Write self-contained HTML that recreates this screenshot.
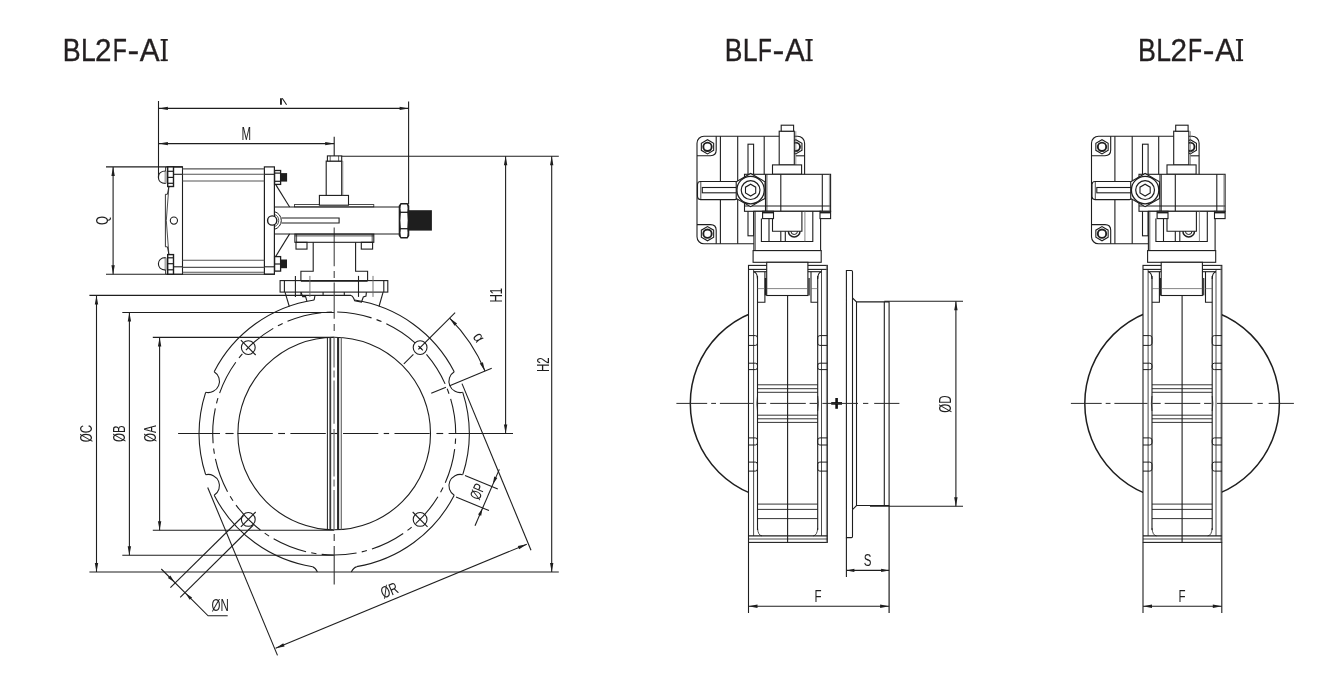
<!DOCTYPE html>
<html><head><meta charset="utf-8"><title>BL2F-AI / BLF-AI</title>
<style>
html,body{margin:0;padding:0;background:#fff;}
body{width:1331px;height:689px;overflow:hidden;font-family:"Liberation Sans",sans-serif;}
svg{display:block;will-change:transform;font-family:"Liberation Sans",sans-serif;}
</style></head><body>
<svg width="1331" height="689" viewBox="0 0 1331 689">
<rect x="0" y="0" width="1331" height="689" fill="#fff"/>
<text transform="translate(62.80,61.1) scale(0.8370,1)" font-size="32.1" fill="#231f20" stroke="#231f20" stroke-width="0.35">B</text>
<text transform="translate(80.92,61.1) scale(0.8267,1)" font-size="32.1" fill="#231f20" stroke="#231f20" stroke-width="0.35">L</text>
<text transform="translate(95.11,61.1) scale(0.9231,1)" font-size="32.1" fill="#231f20" stroke="#231f20" stroke-width="0.35">2</text>
<text transform="translate(112.70,61.1) scale(0.7202,1)" font-size="32.1" fill="#231f20" stroke="#231f20" stroke-width="0.35">F</text>
<text transform="translate(127.44,60.9) scale(1.0974,1)" font-size="32.1" fill="#231f20" stroke="#231f20" stroke-width="0.35">-</text>
<text transform="translate(139.84,61.1) scale(0.9302,1)" font-size="32.1" fill="#231f20" stroke="#231f20" stroke-width="0.35">A</text>
<rect x="162.90" y="39.0" width="2.7" height="22.1" fill="#231f20"/>
<rect x="160.60" y="39.0" width="7.20" height="1.7" fill="#231f20"/>
<rect x="160.60" y="59.4" width="7.20" height="1.7" fill="#231f20"/>
<text transform="translate(724.83,61.1) scale(0.8253,1)" font-size="32.1" fill="#231f20" stroke="#231f20" stroke-width="0.35">B</text>
<text transform="translate(742.80,61.1) scale(0.8337,1)" font-size="32.1" fill="#231f20" stroke="#231f20" stroke-width="0.35">L</text>
<text transform="translate(758.04,61.1) scale(0.7075,1)" font-size="32.1" fill="#231f20" stroke="#231f20" stroke-width="0.35">F</text>
<text transform="translate(772.62,60.9) scale(1.1102,1)" font-size="32.1" fill="#231f20" stroke="#231f20" stroke-width="0.35">-</text>
<text transform="translate(784.94,61.1) scale(0.9302,1)" font-size="32.1" fill="#231f20" stroke="#231f20" stroke-width="0.35">A</text>
<rect x="807.70" y="39.0" width="2.7" height="22.1" fill="#231f20"/>
<rect x="805.40" y="39.0" width="7.30" height="1.7" fill="#231f20"/>
<rect x="805.40" y="59.4" width="7.30" height="1.7" fill="#231f20"/>
<text transform="translate(1138.10,61.1) scale(0.8370,1)" font-size="32.1" fill="#231f20" stroke="#231f20" stroke-width="0.35">B</text>
<text transform="translate(1156.22,61.1) scale(0.8267,1)" font-size="32.1" fill="#231f20" stroke="#231f20" stroke-width="0.35">L</text>
<text transform="translate(1170.41,61.1) scale(0.9231,1)" font-size="32.1" fill="#231f20" stroke="#231f20" stroke-width="0.35">2</text>
<text transform="translate(1188.00,61.1) scale(0.7202,1)" font-size="32.1" fill="#231f20" stroke="#231f20" stroke-width="0.35">F</text>
<text transform="translate(1202.74,60.9) scale(1.0974,1)" font-size="32.1" fill="#231f20" stroke="#231f20" stroke-width="0.35">-</text>
<text transform="translate(1215.14,61.1) scale(0.9302,1)" font-size="32.1" fill="#231f20" stroke="#231f20" stroke-width="0.35">A</text>
<rect x="1238.20" y="39.0" width="2.7" height="22.1" fill="#231f20"/>
<rect x="1235.90" y="39.0" width="7.20" height="1.7" fill="#231f20"/>
<rect x="1235.90" y="59.4" width="7.20" height="1.7" fill="#231f20"/>
<g id="front">
<line x1="89.40" y1="295.40" x2="351.10" y2="295.40" stroke="#1e1e1e" stroke-width="1.1" />
<line x1="122.30" y1="312.50" x2="334.20" y2="312.50" stroke="#1e1e1e" stroke-width="1.1" />
<line x1="152.80" y1="337.40" x2="334.20" y2="337.40" stroke="#1e1e1e" stroke-width="1.1" />
<line x1="152.80" y1="530.30" x2="334.20" y2="530.30" stroke="#1e1e1e" stroke-width="1.1" />
<line x1="122.30" y1="555.20" x2="334.20" y2="555.20" stroke="#1e1e1e" stroke-width="1.1" />
<line x1="89.40" y1="572.00" x2="558.80" y2="572.00" stroke="#1e1e1e" stroke-width="1.1" />
<line x1="96.50" y1="295.40" x2="96.50" y2="572.00" stroke="#1e1e1e" stroke-width="1.1" />
<polygon points="96.50,295.40 98.20,304.40 94.80,304.40" fill="#1e1e1e"/>
<polygon points="96.50,572.00 94.80,563.00 98.20,563.00" fill="#1e1e1e"/>
<line x1="129.40" y1="312.50" x2="129.40" y2="555.20" stroke="#1e1e1e" stroke-width="1.1" />
<polygon points="129.40,312.50 131.10,321.50 127.70,321.50" fill="#1e1e1e"/>
<polygon points="129.40,555.20 127.70,546.20 131.10,546.20" fill="#1e1e1e"/>
<line x1="159.60" y1="337.40" x2="159.60" y2="530.30" stroke="#1e1e1e" stroke-width="1.1" />
<polygon points="159.60,337.40 161.30,346.40 157.90,346.40" fill="#1e1e1e"/>
<polygon points="159.60,530.30 157.90,521.30 161.30,521.30" fill="#1e1e1e"/>
<text transform="translate(92.00,433.60) rotate(-90) scale(0.7,1)" font-size="16.5" text-anchor="middle" fill="#1e1e1e" >ØC</text>
<text transform="translate(125.20,433.60) rotate(-90) scale(0.7,1)" font-size="16.5" text-anchor="middle" fill="#1e1e1e" >ØB</text>
<text transform="translate(155.80,433.60) rotate(-90) scale(0.7,1)" font-size="16.5" text-anchor="middle" fill="#1e1e1e" >ØA</text>
<path d="M454.23,371.72 A135.0,135.0 0 0 0 354.70,300.07" fill="none" stroke="#1e1e1e" stroke-width="1.1" />
<path d="M314.10,300.00 A135.0,135.0 0 0 0 214.17,371.72" fill="none" stroke="#1e1e1e" stroke-width="1.1" />
<path d="M205.64,392.31 A135.0,135.0 0 0 0 205.64,474.69" fill="none" stroke="#1e1e1e" stroke-width="1.1" />
<path d="M214.17,495.28 A135.0,135.0 0 0 0 312.80,566.79" fill="none" stroke="#1e1e1e" stroke-width="1.1" />
<path d="M356.60,566.63 A135.0,135.0 0 0 0 454.23,495.28" fill="none" stroke="#1e1e1e" stroke-width="1.1" />
<path d="M462.76,474.69 A135.0,135.0 0 0 0 462.76,392.31" fill="none" stroke="#1e1e1e" stroke-width="1.1" />
<path d="M462.76,392.31 A11.3,11.3 0 0 1 454.23,371.72" fill="none" stroke="#1e1e1e" stroke-width="1.1" />
<path d="M214.17,371.72 A11.3,11.3 0 0 1 205.64,392.31" fill="none" stroke="#1e1e1e" stroke-width="1.1" />
<path d="M205.64,474.69 A11.3,11.3 0 0 1 214.17,495.28" fill="none" stroke="#1e1e1e" stroke-width="1.1" />
<path d="M454.23,495.28 A11.3,11.3 0 0 1 462.76,474.69" fill="none" stroke="#1e1e1e" stroke-width="1.1" />
<path d="M312.8,566.9 Q315.3,567.6 317.4,572.0" fill="none" stroke="#1e1e1e" stroke-width="1.1" />
<path d="M356.6,566.9 Q353.6,567.6 351.3,572.0" fill="none" stroke="#1e1e1e" stroke-width="1.1" />
<circle cx="334.20" cy="433.50" r="96.30" fill="none" stroke="#1e1e1e" stroke-width="1.1" />
<path d="M449.01,393.74 A121.5,121.5 0 0 0 447.17,388.77" fill="none" stroke="#1e1e1e" stroke-width="1.1" />
<path d="M445.11,383.89 A121.5,121.5 0 0 0 426.45,354.43" fill="none" stroke="#1e1e1e" stroke-width="1.1" />
<path d="M422.91,350.48 A121.5,121.5 0 0 0 419.21,346.69" fill="none" stroke="#1e1e1e" stroke-width="1.1" />
<path d="M415.34,343.07 A121.5,121.5 0 0 0 386.32,323.74" fill="none" stroke="#1e1e1e" stroke-width="1.1" />
<path d="M381.48,321.58 A121.5,121.5 0 0 0 376.55,319.62" fill="none" stroke="#1e1e1e" stroke-width="1.1" />
<path d="M371.54,317.88 A121.5,121.5 0 0 0 337.17,312.04" fill="none" stroke="#1e1e1e" stroke-width="1.1" />
<path d="M331.87,312.02 A121.5,121.5 0 0 0 326.57,312.24" fill="none" stroke="#1e1e1e" stroke-width="1.1" />
<path d="M321.29,312.69 A121.5,121.5 0 0 0 287.51,321.33" fill="none" stroke="#1e1e1e" stroke-width="1.1" />
<path d="M282.66,323.47 A121.5,121.5 0 0 0 277.91,325.83" fill="none" stroke="#1e1e1e" stroke-width="1.1" />
<path d="M273.27,328.38 A121.5,121.5 0 0 0 245.92,350.02" fill="none" stroke="#1e1e1e" stroke-width="1.1" />
<path d="M242.36,353.95 A121.5,121.5 0 0 0 238.98,358.03" fill="none" stroke="#1e1e1e" stroke-width="1.1" />
<path d="M235.78,362.26 A121.5,121.5 0 0 0 219.60,393.14" fill="none" stroke="#1e1e1e" stroke-width="1.1" />
<path d="M217.95,398.18 A121.5,121.5 0 0 0 216.52,403.28" fill="none" stroke="#1e1e1e" stroke-width="1.1" />
<path d="M215.31,408.45 A121.5,121.5 0 0 0 213.09,443.24" fill="none" stroke="#1e1e1e" stroke-width="1.1" />
<path d="M213.63,448.52 A121.5,121.5 0 0 0 214.40,453.76" fill="none" stroke="#1e1e1e" stroke-width="1.1" />
<path d="M215.40,458.97 A121.5,121.5 0 0 0 227.53,491.66" fill="none" stroke="#1e1e1e" stroke-width="1.1" />
<path d="M230.16,496.26 A121.5,121.5 0 0 0 233.00,500.74" fill="none" stroke="#1e1e1e" stroke-width="1.1" />
<path d="M236.03,505.09 A121.5,121.5 0 0 0 260.40,530.02" fill="none" stroke="#1e1e1e" stroke-width="1.1" />
<path d="M264.68,533.15 A121.5,121.5 0 0 0 269.10,536.09" fill="none" stroke="#1e1e1e" stroke-width="1.1" />
<path d="M273.63,538.83 A121.5,121.5 0 0 0 306.04,551.69" fill="none" stroke="#1e1e1e" stroke-width="1.1" />
<path d="M311.22,552.81 A121.5,121.5 0 0 0 316.45,553.70" fill="none" stroke="#1e1e1e" stroke-width="1.1" />
<path d="M321.71,554.36 A121.5,121.5 0 0 0 356.55,552.93" fill="none" stroke="#1e1e1e" stroke-width="1.1" />
<path d="M361.74,551.84 A121.5,121.5 0 0 0 366.87,550.52" fill="none" stroke="#1e1e1e" stroke-width="1.1" />
<path d="M371.95,548.99 A121.5,121.5 0 0 0 403.19,533.51" fill="none" stroke="#1e1e1e" stroke-width="1.1" />
<path d="M407.49,530.41 A121.5,121.5 0 0 0 411.65,527.12" fill="none" stroke="#1e1e1e" stroke-width="1.1" />
<path d="M415.66,523.65 A121.5,121.5 0 0 0 437.91,496.80" fill="none" stroke="#1e1e1e" stroke-width="1.1" />
<path d="M440.57,492.22 A121.5,121.5 0 0 0 443.03,487.52" fill="none" stroke="#1e1e1e" stroke-width="1.1" />
<path d="M445.28,482.72 A121.5,121.5 0 0 0 454.69,449.15" fill="none" stroke="#1e1e1e" stroke-width="1.1" />
<path d="M455.26,443.88 A121.5,121.5 0 0 0 455.59,438.59" fill="none" stroke="#1e1e1e" stroke-width="1.1" />
<path d="M455.70,433.29 A121.5,121.5 0 0 0 450.64,398.79" fill="none" stroke="#1e1e1e" stroke-width="1.1" />
<circle cx="420.11" cy="347.59" r="6.90" fill="none" stroke="#1e1e1e" stroke-width="1.1" />
<circle cx="248.29" cy="347.59" r="6.90" fill="none" stroke="#1e1e1e" stroke-width="1.1" />
<line x1="255.71" y1="355.01" x2="240.86" y2="340.16" stroke="#1e1e1e" stroke-width="1.1" />
<circle cx="248.29" cy="519.41" r="6.90" fill="none" stroke="#1e1e1e" stroke-width="1.1" />
<line x1="255.71" y1="511.99" x2="240.86" y2="526.84" stroke="#1e1e1e" stroke-width="1.1" />
<circle cx="420.11" cy="519.41" r="6.90" fill="none" stroke="#1e1e1e" stroke-width="1.1" />
<line x1="412.69" y1="511.99" x2="427.54" y2="526.84" stroke="#1e1e1e" stroke-width="1.1" />
<line x1="178.10" y1="433.50" x2="220.00" y2="433.50" stroke="#1e1e1e" stroke-width="1.1" />
<line x1="225.40" y1="433.50" x2="233.60" y2="433.50" stroke="#1e1e1e" stroke-width="1.1" />
<line x1="237.60" y1="433.50" x2="272.80" y2="433.50" stroke="#1e1e1e" stroke-width="1.1" />
<line x1="278.20" y1="433.50" x2="285.00" y2="433.50" stroke="#1e1e1e" stroke-width="1.1" />
<line x1="290.40" y1="433.50" x2="325.80" y2="433.50" stroke="#1e1e1e" stroke-width="1.1" />
<line x1="330.30" y1="433.50" x2="338.10" y2="433.50" stroke="#1e1e1e" stroke-width="1.1" />
<line x1="343.00" y1="433.50" x2="378.30" y2="433.50" stroke="#1e1e1e" stroke-width="1.1" />
<line x1="383.70" y1="433.50" x2="389.10" y2="433.50" stroke="#1e1e1e" stroke-width="1.1" />
<line x1="394.50" y1="433.50" x2="429.70" y2="433.50" stroke="#1e1e1e" stroke-width="1.1" />
<line x1="436.40" y1="433.50" x2="443.20" y2="433.50" stroke="#1e1e1e" stroke-width="1.1" />
<line x1="448.60" y1="433.50" x2="513.00" y2="433.50" stroke="#1e1e1e" stroke-width="1.1" />
<line x1="334.20" y1="227.40" x2="334.20" y2="266.30" stroke="#444" stroke-width="1.1" />
<line x1="334.20" y1="271.10" x2="334.20" y2="278.00" stroke="#444" stroke-width="1.1" />
<line x1="334.20" y1="282.60" x2="334.20" y2="318.70" stroke="#444" stroke-width="1.1" />
<line x1="334.20" y1="324.00" x2="334.20" y2="331.00" stroke="#444" stroke-width="1.1" />
<line x1="334.20" y1="546.00" x2="334.20" y2="584.50" stroke="#333" stroke-width="1.1" />
<line x1="334.20" y1="534.00" x2="334.20" y2="541.00" stroke="#333" stroke-width="1.1" />
<line x1="327.40" y1="337.60" x2="327.40" y2="529.40" stroke="#1e1e1e" stroke-width="1.0" />
<line x1="330.30" y1="337.60" x2="330.30" y2="529.40" stroke="#3a3a3a" stroke-width="1.8" />
<line x1="338.10" y1="337.60" x2="338.10" y2="529.40" stroke="#2a2a2a" stroke-width="2.1" />
<line x1="341.30" y1="337.60" x2="341.30" y2="529.40" stroke="#6a6a6a" stroke-width="1.2" />
<line x1="334.05" y1="337.60" x2="334.05" y2="367.50" stroke="#6e6e6e" stroke-width="1.2" />
<line x1="334.05" y1="370.50" x2="334.05" y2="377.50" stroke="#6e6e6e" stroke-width="1.2" />
<line x1="334.05" y1="380.50" x2="334.05" y2="423.80" stroke="#6e6e6e" stroke-width="1.2" />
<line x1="334.05" y1="429.10" x2="334.05" y2="476.50" stroke="#6e6e6e" stroke-width="1.2" />
<line x1="334.05" y1="479.50" x2="334.05" y2="486.50" stroke="#6e6e6e" stroke-width="1.2" />
<line x1="334.05" y1="490.00" x2="334.05" y2="529.40" stroke="#6e6e6e" stroke-width="1.2" />
<line x1="285.00" y1="292.10" x2="289.30" y2="306.50" stroke="#1e1e1e" stroke-width="1.1" />
<line x1="383.10" y1="292.10" x2="379.00" y2="306.50" stroke="#1e1e1e" stroke-width="1.1" />
<line x1="301.00" y1="292.10" x2="301.00" y2="295.50" stroke="#1e1e1e" stroke-width="1.1" />
<line x1="323.10" y1="292.10" x2="323.10" y2="295.50" stroke="#1e1e1e" stroke-width="1.1" />
<line x1="344.30" y1="292.10" x2="344.30" y2="295.50" stroke="#1e1e1e" stroke-width="1.1" />
<path d="M301.00,292.10 L302.70,296.60 L305.60,296.60 L306.90,301.10" fill="none" stroke="#1e1e1e" stroke-width="1.1" />
<path d="M315.00,295.50 L314.10,300.20" fill="none" stroke="#1e1e1e" stroke-width="1.1" />
<path d="M351.1,295.5 Q353,296 354.7,300.7 L361.5,302.0 L363.3,297.0 L366.0,296.1 L366.4,292.1" fill="none" stroke="#1e1e1e" stroke-width="1.1" />
<rect x="280.10" y="280.60" width="107.70" height="11.50" rx="0" fill="none" stroke="#1e1e1e" stroke-width="1.1" />
<line x1="284.40" y1="280.60" x2="284.40" y2="292.10" stroke="#1e1e1e" stroke-width="1.1" />
<line x1="383.80" y1="280.60" x2="383.80" y2="292.10" stroke="#1e1e1e" stroke-width="1.1" />
<line x1="300.90" y1="280.90" x2="367.60" y2="280.90" stroke="#1e1e1e" stroke-width="1.5" />
<path d="M300.90,280.60 L300.90,271.30 L313.20,271.30 L313.20,242.30" fill="none" stroke="#1e1e1e" stroke-width="1.1" />
<path d="M367.60,280.60 L367.60,271.30 L355.60,271.30 L355.60,242.30" fill="none" stroke="#1e1e1e" stroke-width="1.1" />
<line x1="295.40" y1="275.90" x2="295.40" y2="296.90" stroke="#1e1e1e" stroke-width="1.1" />
<line x1="358.50" y1="275.90" x2="358.50" y2="296.90" stroke="#1e1e1e" stroke-width="1.1" />
<line x1="309.90" y1="275.90" x2="309.90" y2="296.90" stroke="#666" stroke-width="0.9" />
<line x1="373.00" y1="275.90" x2="373.00" y2="296.90" stroke="#666" stroke-width="0.9" />
<line x1="106.00" y1="166.90" x2="182.50" y2="166.90" stroke="#1e1e1e" stroke-width="1.1" />
<line x1="106.00" y1="274.20" x2="274.80" y2="274.20" stroke="#1e1e1e" stroke-width="1.1" />
<line x1="113.10" y1="166.90" x2="113.10" y2="274.20" stroke="#1e1e1e" stroke-width="1.1" />
<polygon points="113.10,166.90 114.80,175.90 111.40,175.90" fill="#1e1e1e"/>
<polygon points="113.10,274.20 111.40,265.20 114.80,265.20" fill="#1e1e1e"/>
<text transform="translate(108.00,220.60) rotate(-90) scale(0.7,1)" font-size="16.5" text-anchor="middle" fill="#1e1e1e" >Q</text>
<path d="M166.40,166.90 L182.50,166.90 L182.50,274.20 L166.40,274.20" fill="none" stroke="#1e1e1e" stroke-width="1.1" />
<rect x="264.40" y="166.90" width="10.00" height="107.30" rx="0" fill="none" stroke="#1e1e1e" stroke-width="1.2" />
<line x1="173.50" y1="174.30" x2="182.50" y2="174.30" stroke="#1e1e1e" stroke-width="1.1" />
<line x1="173.50" y1="266.80" x2="182.50" y2="266.80" stroke="#1e1e1e" stroke-width="1.1" />
<line x1="264.40" y1="174.30" x2="274.40" y2="174.30" stroke="#1e1e1e" stroke-width="1.1" />
<line x1="264.40" y1="266.80" x2="274.40" y2="266.80" stroke="#1e1e1e" stroke-width="1.1" />
<line x1="182.50" y1="168.90" x2="264.40" y2="168.90" stroke="#555" stroke-width="1.1" />
<line x1="182.50" y1="174.20" x2="264.40" y2="174.20" stroke="#555" stroke-width="1.1" />
<line x1="182.50" y1="181.00" x2="264.40" y2="181.00" stroke="#555" stroke-width="1.1" />
<line x1="182.50" y1="260.30" x2="264.40" y2="260.30" stroke="#555" stroke-width="1.1" />
<line x1="182.50" y1="267.40" x2="264.40" y2="267.40" stroke="#555" stroke-width="1.1" />
<line x1="182.50" y1="272.20" x2="264.40" y2="272.20" stroke="#555" stroke-width="1.1" />
<rect x="164.5" y="171.00" width="3.0" height="12.5" fill="#aaa"/>
<rect x="167.70" y="166.90" width="5.80" height="19.60" rx="0" fill="#fff" stroke="#1e1e1e" stroke-width="1.4" />
<line x1="167.70" y1="171.30" x2="173.50" y2="171.30" stroke="#1e1e1e" stroke-width="1.2" />
<line x1="167.70" y1="177.40" x2="173.50" y2="177.40" stroke="#1e1e1e" stroke-width="1.2" />
<line x1="167.70" y1="183.30" x2="173.50" y2="183.30" stroke="#1e1e1e" stroke-width="1.2" />
<line x1="165.70" y1="166.90" x2="165.70" y2="171.00" stroke="#1e1e1e" stroke-width="1.0" />
<path d="M165.7,171.00 C160.5,171.00 158.4,174.20 158.4,177.25 C158.4,180.30 160.5,183.50 165.7,183.50" fill="none" stroke="#1e1e1e" stroke-width="1.1" />
<rect x="164.5" y="257.60" width="3.0" height="12.5" fill="#aaa"/>
<rect x="167.70" y="254.60" width="5.80" height="19.60" rx="0" fill="#fff" stroke="#1e1e1e" stroke-width="1.4" />
<line x1="167.70" y1="269.80" x2="173.50" y2="269.80" stroke="#1e1e1e" stroke-width="1.2" />
<line x1="167.70" y1="263.70" x2="173.50" y2="263.70" stroke="#1e1e1e" stroke-width="1.2" />
<line x1="167.70" y1="257.80" x2="173.50" y2="257.80" stroke="#1e1e1e" stroke-width="1.2" />
<line x1="165.70" y1="274.20" x2="165.70" y2="270.10" stroke="#1e1e1e" stroke-width="1.0" />
<path d="M165.7,270.10 C160.5,270.10 158.4,266.90 158.4,263.85 C158.4,260.80 160.5,257.60 165.7,257.60" fill="none" stroke="#1e1e1e" stroke-width="1.1" />
<path d="M168.90,186.50 L167.40,194.30 L165.40,194.30 L165.40,246.80 L167.40,246.80 L168.90,254.60" fill="none" stroke="#1e1e1e" stroke-width="0.9" />
<path d="M168.90,186.50 L166.30,220.50 L168.90,254.60" fill="none" stroke="#1e1e1e" stroke-width="0.8" />
<circle cx="173.90" cy="220.60" r="3.60" fill="none" stroke="#1e1e1e" stroke-width="1.1" />
<rect x="274.60" y="170.50" width="6.00" height="13.90" rx="0" fill="#fff" stroke="#1e1e1e" stroke-width="1.3" />
<line x1="274.60" y1="173.10" x2="280.60" y2="173.10" stroke="#1e1e1e" stroke-width="1.2" />
<line x1="274.60" y1="181.30" x2="280.60" y2="181.30" stroke="#1e1e1e" stroke-width="1.2" />
<rect x="280.6" y="173.1" width="6.5" height="8.5" fill="#1e1e1e"/>
<rect x="274.60" y="256.60" width="6.00" height="14.50" rx="0" fill="#fff" stroke="#1e1e1e" stroke-width="1.3" />
<line x1="274.60" y1="264.00" x2="280.60" y2="264.00" stroke="#1e1e1e" stroke-width="1.2" />
<rect x="280.6" y="259.5" width="6.4" height="8.7" fill="#1e1e1e"/>
<line x1="275.60" y1="184.40" x2="289.60" y2="207.00" stroke="#1e1e1e" stroke-width="1.1" />
<line x1="275.60" y1="256.60" x2="289.60" y2="233.90" stroke="#1e1e1e" stroke-width="1.1" />
<line x1="274.40" y1="207.00" x2="399.50" y2="207.00" stroke="#1e1e1e" stroke-width="1.1" />
<line x1="274.40" y1="234.00" x2="399.50" y2="234.00" stroke="#1e1e1e" stroke-width="1.1" />
<path d="M281.60,218.00 L339.10,218.00 L339.10,223.00 L281.60,223.00" fill="none" stroke="#1e1e1e" stroke-width="1.1" />
<path d="M274.4,211.67 A9.1,9.1 0 0 1 274.4,229.33" fill="none" stroke="#1e1e1e" stroke-width="1.0" />
<path d="M274.4,214.38 A6.5,6.5 0 0 1 274.4,226.62" fill="none" stroke="#1e1e1e" stroke-width="0.8" />
<circle cx="272.20" cy="220.50" r="4.60" fill="#fff" stroke="#1e1e1e" stroke-width="1.4" />
<rect x="294.50" y="204.60" width="79.30" height="2.30" rx="0" fill="none" stroke="#1e1e1e" stroke-width="0.8" />
<rect x="319.40" y="195.40" width="29.10" height="9.80" rx="0" fill="#fff" stroke="#1e1e1e" stroke-width="1.1" />
<rect x="326.20" y="161.10" width="15.50" height="34.30" rx="0" fill="#fff" stroke="#1e1e1e" stroke-width="1.1" />
<line x1="342.80" y1="161.10" x2="342.80" y2="195.40" stroke="#666" stroke-width="0.7" />
<rect x="327.40" y="155.90" width="14.30" height="5.20" rx="0" fill="#fff" stroke="#1e1e1e" stroke-width="1.1" />
<line x1="330.20" y1="155.90" x2="330.20" y2="161.10" stroke="#1e1e1e" stroke-width="0.7" />
<line x1="338.60" y1="155.90" x2="338.60" y2="161.10" stroke="#1e1e1e" stroke-width="0.7" />
<rect x="294.90" y="234.10" width="78.90" height="8.20" rx="0" fill="none" stroke="#1e1e1e" stroke-width="1.1" />
<line x1="294.90" y1="235.90" x2="373.80" y2="235.90" stroke="#1e1e1e" stroke-width="0.8" />
<line x1="296.60" y1="234.10" x2="296.60" y2="242.30" stroke="#1e1e1e" stroke-width="0.8" />
<line x1="372.20" y1="234.10" x2="372.20" y2="242.30" stroke="#1e1e1e" stroke-width="0.8" />
<rect x="296.00" y="242.30" width="11.00" height="6.80" rx="0" fill="none" stroke="#1e1e1e" stroke-width="1.1" />
<rect x="361.30" y="242.30" width="11.30" height="6.80" rx="0" fill="none" stroke="#1e1e1e" stroke-width="1.1" />
<path d="M401.0,203.8 L407.2,203.8 L408.6,206.0 L408.6,235.6 L407.2,237.8 L401.0,237.8 L399.4,235.6 L399.4,206.0 Z" fill="#fff" stroke="#1e1e1e" stroke-width="1.4" />
<line x1="399.40" y1="212.30" x2="408.60" y2="212.30" stroke="#1e1e1e" stroke-width="1.3" />
<line x1="399.40" y1="228.70" x2="408.60" y2="228.70" stroke="#1e1e1e" stroke-width="1.3" />
<path d="M400.6,204.5 Q399.6,208.2 400.6,212.3 Q399.2,220.5 400.6,228.7 Q399.6,232.8 400.6,237.0" fill="none" stroke="#1e1e1e" stroke-width="0.8" />
<path d="M407.6,204.5 Q408.4,208.2 407.6,212.3 Q408.8,220.5 407.6,228.7 Q408.4,232.8 407.6,237.0" fill="none" stroke="#1e1e1e" stroke-width="0.8" />
<rect x="408.6" y="210.2" width="23.3" height="20.4" fill="#1e1e1e"/>
<line x1="158.50" y1="101.00" x2="158.50" y2="178.60" stroke="#1e1e1e" stroke-width="1.1" />
<line x1="408.60" y1="101.40" x2="408.60" y2="204.20" stroke="#1e1e1e" stroke-width="1.1" />
<line x1="158.50" y1="108.40" x2="408.60" y2="108.40" stroke="#1e1e1e" stroke-width="1.1" />
<polygon points="158.90,108.40 167.90,106.70 167.90,110.10" fill="#1e1e1e"/>
<polygon points="408.60,108.40 399.60,110.10 399.60,106.70" fill="#1e1e1e"/>
<line x1="158.50" y1="143.60" x2="334.20" y2="143.60" stroke="#1e1e1e" stroke-width="1.1" />
<polygon points="158.90,143.60 167.90,141.90 167.90,145.30" fill="#1e1e1e"/>
<polygon points="334.20,143.60 325.20,145.30 325.20,141.90" fill="#1e1e1e"/>
<line x1="334.20" y1="136.80" x2="334.20" y2="155.90" stroke="#1e1e1e" stroke-width="1.1" />
<text transform="translate(246.20,139.80) rotate(0) scale(0.66,1)" font-size="17.5" text-anchor="middle" fill="#1e1e1e" >M</text>
<path d="M280,98.3 L281.9,98.3 L281.9,104.7 L280,104.7 Z" fill="#1e1e1e"/>
<line x1="282.20" y1="98.30" x2="286.60" y2="104.70" stroke="#1e1e1e" stroke-width="1.1" />
<line x1="341.70" y1="156.30" x2="558.80" y2="156.30" stroke="#1e1e1e" stroke-width="1.1" />
<line x1="505.60" y1="156.30" x2="505.60" y2="433.50" stroke="#1e1e1e" stroke-width="1.1" />
<polygon points="505.60,156.30 507.30,165.30 503.90,165.30" fill="#1e1e1e"/>
<polygon points="505.60,433.50 503.90,424.50 507.30,424.50" fill="#1e1e1e"/>
<line x1="551.70" y1="156.30" x2="551.70" y2="572.00" stroke="#1e1e1e" stroke-width="1.1" />
<polygon points="551.70,156.30 553.40,165.30 550.00,165.30" fill="#1e1e1e"/>
<polygon points="551.70,572.00 550.00,563.00 553.40,563.00" fill="#1e1e1e"/>
<text transform="translate(502.20,295.20) rotate(-90) scale(0.7,1)" font-size="16.5" text-anchor="middle" fill="#1e1e1e" >H1</text>
<text transform="translate(548.80,364.60) rotate(-90) scale(0.7,1)" font-size="16.5" text-anchor="middle" fill="#1e1e1e" >H2</text>
<line x1="418.35" y1="349.35" x2="455.12" y2="312.58" stroke="#1e1e1e" stroke-width="1.1" />
<line x1="413.40" y1="354.30" x2="403.85" y2="363.85" stroke="#1e1e1e" stroke-width="1.1" />
<line x1="418.31" y1="345.79" x2="421.91" y2="349.39" stroke="#1e1e1e" stroke-width="1.1" />
<line x1="431.21" y1="393.32" x2="445.99" y2="387.20" stroke="#1e1e1e" stroke-width="1.1" />
<line x1="449.68" y1="385.66" x2="491.72" y2="368.25" stroke="#1e1e1e" stroke-width="1.1" />
<path d="M449.60,318.10 A163.2,163.2 0 0 1 484.98,371.05" fill="none" stroke="#1e1e1e" stroke-width="1.1" />
<polygon points="449.60,318.10 457.04,323.45 454.58,325.79" fill="#1e1e1e"/>
<polygon points="484.98,371.05 479.78,363.51 482.89,362.13" fill="#1e1e1e"/>
<text transform="translate(474.50,340.30) rotate(56) scale(0.9,1)" font-size="16" text-anchor="middle" fill="#1e1e1e" >α</text>
<line x1="465.00" y1="475.40" x2="497.80" y2="489.00" stroke="#1e1e1e" stroke-width="1.1" />
<line x1="456.00" y1="497.00" x2="489.00" y2="510.60" stroke="#1e1e1e" stroke-width="1.1" />
<line x1="499.30" y1="469.40" x2="475.00" y2="525.70" stroke="#1e1e1e" stroke-width="1.1" />
<polygon points="492.90,484.20 494.20,476.62 497.34,477.92" fill="#1e1e1e"/>
<polygon points="482.50,508.20 481.20,515.78 478.06,514.48" fill="#1e1e1e"/>
<text transform="translate(482.20,493.60) rotate(-67.5) scale(0.7,1)" font-size="15.5" text-anchor="middle" fill="#1e1e1e" >ØP</text>
<line x1="462.00" y1="383.60" x2="531.00" y2="550.20" stroke="#1e1e1e" stroke-width="1.1" />
<line x1="207.70" y1="487.50" x2="277.50" y2="655.40" stroke="#1e1e1e" stroke-width="1.1" />
<line x1="275.60" y1="648.30" x2="526.80" y2="544.20" stroke="#1e1e1e" stroke-width="1.1" />
<polygon points="275.60,648.30 283.26,643.29 284.57,646.43" fill="#1e1e1e"/>
<polygon points="526.80,544.20 519.14,549.21 517.83,546.07" fill="#1e1e1e"/>
<text transform="translate(391.50,595.50) rotate(-22.5) scale(0.7,1)" font-size="16.5" text-anchor="middle" fill="#1e1e1e" >ØR</text>
<line x1="243.60" y1="515.50" x2="170.40" y2="587.60" stroke="#1e1e1e" stroke-width="1.1" />
<line x1="253.40" y1="525.00" x2="180.20" y2="597.40" stroke="#1e1e1e" stroke-width="1.1" />
<path d="M161.30,569.00 L208.10,615.80 L227.70,615.80" fill="none" stroke="#1e1e1e" stroke-width="1.1" />
<polygon points="174.40,582.10 167.89,578.00 170.30,575.59" fill="#1e1e1e"/>
<polygon points="185.60,593.30 192.11,597.40 189.70,599.81" fill="#1e1e1e"/>
<text transform="translate(220.20,610.90) rotate(0) scale(0.7,1)" font-size="16.5" text-anchor="middle" fill="#1e1e1e" >ØN</text>
</g>
<g transform="translate(0,0)">
<circle cx="787.60" cy="403.40" r="97.30" fill="none" stroke="#1e1e1e" stroke-width="1.5" />
<rect x="787.6" y="300" width="110" height="210" fill="#fff"/>
<rect x="697.00" y="136.20" width="107.60" height="107.60" rx="7" fill="#fff" stroke="#1e1e1e" stroke-width="1.1" />
<line x1="720.40" y1="136.20" x2="720.40" y2="243.80" stroke="#1e1e1e" stroke-width="1.1" />
<line x1="737.70" y1="136.20" x2="737.70" y2="243.80" stroke="#1e1e1e" stroke-width="1.1" />
<line x1="764.20" y1="136.20" x2="764.20" y2="243.80" stroke="#1e1e1e" stroke-width="1.1" />
<path d="M697,155.8 L710.5,155.8 Q716.2,155.8 716.2,150.1 L716.2,136.2" fill="none" stroke="#1e1e1e" stroke-width="1.1" />
<path d="M697,224.6 L710.5,224.6 Q716.2,224.6 716.2,230.3 L716.2,243.8" fill="none" stroke="#1e1e1e" stroke-width="1.1" />
<path d="M804.6,155.8 L795.8,155.8" fill="none" stroke="#1e1e1e" stroke-width="1.1" />
<path d="M713.65,150.35 L707.50,153.90 L701.35,150.35 L701.35,143.25 L707.50,139.70 L713.65,143.25 Z" fill="none" stroke="#1e1e1e" stroke-width="1.1" />
<circle cx="707.50" cy="146.80" r="4.20" fill="none" stroke="#1e1e1e" stroke-width="1.9" />
<path d="M801.95,150.35 L795.80,153.90 L789.65,150.35 L789.65,143.25 L795.80,139.70 L801.95,143.25 Z" fill="none" stroke="#1e1e1e" stroke-width="1.1" />
<circle cx="795.80" cy="146.80" r="4.20" fill="none" stroke="#1e1e1e" stroke-width="1.9" />
<path d="M713.65,237.25 L707.50,240.80 L701.35,237.25 L701.35,230.15 L707.50,226.60 L713.65,230.15 Z" fill="none" stroke="#1e1e1e" stroke-width="1.1" />
<circle cx="707.50" cy="233.70" r="4.20" fill="none" stroke="#1e1e1e" stroke-width="1.9" />
<rect x="748.00" y="144.20" width="5.60" height="91.60" rx="0" fill="#fff" stroke="#1e1e1e" stroke-width="1.1" />
<rect x="697.50" y="181.50" width="40.50" height="18.10" rx="3" fill="#fff" stroke="#1e1e1e" stroke-width="1.1" />
<line x1="700.80" y1="182.00" x2="700.80" y2="199.10" stroke="#1e1e1e" stroke-width="0.8" />
<rect x="702.30" y="187.50" width="35.70" height="5.30" rx="0" fill="none" stroke="#1e1e1e" stroke-width="1.1" />
<rect x="779.20" y="131.20" width="15.10" height="33.80" rx="0" fill="#fff" stroke="#1e1e1e" stroke-width="1.1" />
<line x1="795.80" y1="131.20" x2="795.80" y2="165.00" stroke="#666" stroke-width="0.7" />
<rect x="781.20" y="125.20" width="12.40" height="6.00" rx="0" fill="#fff" stroke="#1e1e1e" stroke-width="1.1" />
<rect x="772.50" y="164.90" width="29.10" height="9.40" rx="0" fill="#fff" stroke="#1e1e1e" stroke-width="1.1" />
<rect x="744.50" y="174.30" width="86.10" height="37.00" rx="0" fill="#fff" stroke="#1e1e1e" stroke-width="1.1" />
<line x1="744.50" y1="206.00" x2="830.60" y2="206.00" stroke="#1e1e1e" stroke-width="1.1" />
<line x1="765.50" y1="174.30" x2="765.50" y2="211.30" stroke="#1e1e1e" stroke-width="1.1" />
<line x1="766.90" y1="174.30" x2="766.90" y2="211.30" stroke="#1e1e1e" stroke-width="0.8" />
<line x1="780.80" y1="174.30" x2="780.80" y2="211.30" stroke="#1e1e1e" stroke-width="1.1" />
<line x1="822.30" y1="174.30" x2="822.30" y2="211.30" stroke="#1e1e1e" stroke-width="1.1" />
<line x1="829.40" y1="174.30" x2="829.40" y2="211.30" stroke="#666" stroke-width="0.7" />
<path d="M764.98,198.40 L750.60,206.70 L736.22,198.40 L736.22,181.80 L750.60,173.50 L764.98,181.80 Z" fill="#fff" stroke="#1e1e1e" stroke-width="1.1" />
<circle cx="750.60" cy="190.10" r="13.70" fill="#fff" stroke="#1e1e1e" stroke-width="1.3" />
<circle cx="750.60" cy="190.10" r="9.40" fill="none" stroke="#1e1e1e" stroke-width="1.2" />
<path d="M755.71,193.05 L750.60,196.00 L745.49,193.05 L745.49,187.15 L750.60,184.20 L755.71,187.15 Z" fill="none" stroke="#1e1e1e" stroke-width="1.1" />
<rect x="753.90" y="211.30" width="66.70" height="39.30" rx="0" fill="#fff" stroke="#1e1e1e" stroke-width="1.1" />
<line x1="755.30" y1="211.30" x2="755.30" y2="250.60" stroke="#1e1e1e" stroke-width="0.7" />
<path d="M761.40,218.60 L761.40,241.50 L812.80,241.50 L812.80,211.30" fill="none" stroke="#1e1e1e" stroke-width="1.1" />
<line x1="769.00" y1="218.60" x2="769.00" y2="241.50" stroke="#1e1e1e" stroke-width="1.1" />
<line x1="780.80" y1="231.20" x2="780.80" y2="241.50" stroke="#1e1e1e" stroke-width="1.1" />
<line x1="785.30" y1="231.20" x2="785.30" y2="241.50" stroke="#1e1e1e" stroke-width="1.1" />
<line x1="804.90" y1="211.30" x2="804.90" y2="241.50" stroke="#666" stroke-width="0.8" />
<path d="M772.50,211.30 L772.50,231.20 L801.90,231.20 L801.90,211.30" fill="none" stroke="#1e1e1e" stroke-width="1.1" />
<path d="M788.4,231.2 A5.8,5.8 0 0 0 800.0,231.2" fill="none" stroke="#1e1e1e" stroke-width="1.5" />
<path d="M790.9,231.2 A3.3,3.3 0 0 0 797.5,231.2" fill="none" stroke="#1e1e1e" stroke-width="1.0" />
<rect x="762.60" y="211.30" width="10.90" height="7.30" rx="0" fill="#fff" stroke="#1e1e1e" stroke-width="1.1" />
<line x1="762.60" y1="212.60" x2="773.50" y2="212.60" stroke="#1e1e1e" stroke-width="1.6" />
<rect x="820.00" y="211.30" width="10.60" height="7.30" rx="0" fill="#fff" stroke="#1e1e1e" stroke-width="1.1" />
<line x1="820.00" y1="212.60" x2="830.60" y2="212.60" stroke="#1e1e1e" stroke-width="1.6" />
<rect x="753.10" y="250.60" width="68.10" height="11.70" rx="0" fill="#fff" stroke="#1e1e1e" stroke-width="1.1" />
<rect x="748.50" y="265.40" width="78.80" height="277.00" rx="0" fill="#fff" stroke="#1e1e1e" stroke-width="1.1" />
<rect x="766.70" y="262.30" width="41.20" height="33.20" rx="0" fill="#fff" stroke="#1e1e1e" stroke-width="1.1" />
<line x1="766.70" y1="288.60" x2="807.90" y2="288.60" stroke="#666" stroke-width="0.8" />
<line x1="765.60" y1="278.00" x2="765.60" y2="295.40" stroke="#1e1e1e" stroke-width="1.7" />
<line x1="809.00" y1="278.00" x2="809.00" y2="295.40" stroke="#444" stroke-width="1.7" />
<line x1="748.50" y1="269.40" x2="766.70" y2="269.40" stroke="#1e1e1e" stroke-width="1.1" />
<line x1="753.60" y1="271.70" x2="766.70" y2="271.70" stroke="#1e1e1e" stroke-width="1.1" />
<line x1="807.90" y1="269.40" x2="827.30" y2="269.40" stroke="#1e1e1e" stroke-width="1.1" />
<line x1="807.90" y1="271.70" x2="821.50" y2="271.70" stroke="#1e1e1e" stroke-width="1.1" />
<line x1="753.60" y1="269.40" x2="753.60" y2="535.90" stroke="#1e1e1e" stroke-width="0.8" />
<line x1="757.50" y1="276.00" x2="757.50" y2="530.00" stroke="#1e1e1e" stroke-width="1.1" />
<line x1="821.50" y1="269.40" x2="821.50" y2="535.90" stroke="#1e1e1e" stroke-width="0.8" />
<line x1="817.70" y1="276.00" x2="817.70" y2="530.00" stroke="#1e1e1e" stroke-width="1.1" />
<line x1="826.40" y1="265.40" x2="826.40" y2="542.40" stroke="#666" stroke-width="0.7" />
<path d="M753.6,271.7 Q757.5,272.5 757.5,279" fill="none" stroke="#1e1e1e" stroke-width="1.1" />
<path d="M821.5,271.7 Q817.7,272.5 817.7,279" fill="none" stroke="#1e1e1e" stroke-width="1.1" />
<path d="M757.5,528 Q758,535.5 762,535.9" fill="none" stroke="#1e1e1e" stroke-width="0.8" />
<path d="M817.7,528 Q817.2,535.5 813.2,535.9" fill="none" stroke="#1e1e1e" stroke-width="0.8" />
<path d="M757.50,302.20 L764.90,302.20 L764.90,271.70" fill="none" stroke="#1e1e1e" stroke-width="1.1" />
<path d="M817.70,302.20 L811.00,302.20 L811.00,271.70" fill="none" stroke="#1e1e1e" stroke-width="1.1" />
<line x1="757.50" y1="288.60" x2="764.90" y2="288.60" stroke="#666" stroke-width="0.7" />
<line x1="811.00" y1="288.60" x2="817.70" y2="288.60" stroke="#666" stroke-width="0.7" />
<line x1="748.50" y1="535.90" x2="827.30" y2="535.90" stroke="#1e1e1e" stroke-width="1.1" />
<line x1="748.50" y1="539.00" x2="827.30" y2="539.00" stroke="#1e1e1e" stroke-width="0.8" />
<line x1="787.60" y1="295.50" x2="787.60" y2="542.40" stroke="#1e1e1e" stroke-width="1.1" />
<path d="M748.5,335.6 L755.3,335.6 Q757.5,335.6 757.5,337.8 L757.5,343.2 Q757.5,345.4 755.3,345.4 L748.5,345.4" fill="none" stroke="#1e1e1e" stroke-width="1.0" />
<path d="M827.3,335.6 L819.9,335.6 Q817.7,335.6 817.7,337.8 L817.7,343.2 Q817.7,345.4 819.9,345.4 L827.3,345.4" fill="none" stroke="#1e1e1e" stroke-width="1.0" />
<path d="M748.5,363.2 L755.3,363.2 Q757.5,363.2 757.5,365.4 L757.5,367.40000000000003 Q757.5,369.6 755.3,369.6 L748.5,369.6" fill="none" stroke="#1e1e1e" stroke-width="1.0" />
<path d="M827.3,363.2 L819.9,363.2 Q817.7,363.2 817.7,365.4 L817.7,367.40000000000003 Q817.7,369.6 819.9,369.6 L827.3,369.6" fill="none" stroke="#1e1e1e" stroke-width="1.0" />
<path d="M748.5,437.9 L755.3,437.9 Q757.5,437.9 757.5,440.09999999999997 L757.5,442.8 Q757.5,445.0 755.3,445.0 L748.5,445.0" fill="none" stroke="#1e1e1e" stroke-width="1.0" />
<path d="M827.3,437.9 L819.9,437.9 Q817.7,437.9 817.7,440.09999999999997 L817.7,442.8 Q817.7,445.0 819.9,445.0 L827.3,445.0" fill="none" stroke="#1e1e1e" stroke-width="1.0" />
<path d="M748.5,462.1 L755.3,462.1 Q757.5,462.1 757.5,464.3 L757.5,468.90000000000003 Q757.5,471.1 755.3,471.1 L748.5,471.1" fill="none" stroke="#1e1e1e" stroke-width="1.0" />
<path d="M827.3,462.1 L819.9,462.1 Q817.7,462.1 817.7,464.3 L817.7,468.90000000000003 Q817.7,471.1 819.9,471.1 L827.3,471.1" fill="none" stroke="#1e1e1e" stroke-width="1.0" />
<line x1="757.50" y1="384.80" x2="817.70" y2="384.80" stroke="#1e1e1e" stroke-width="0.9" />
<line x1="757.50" y1="388.70" x2="817.70" y2="388.70" stroke="#1e1e1e" stroke-width="0.9" />
<line x1="757.50" y1="392.30" x2="817.70" y2="392.30" stroke="#1e1e1e" stroke-width="0.9" />
<line x1="757.50" y1="415.20" x2="817.70" y2="415.20" stroke="#1e1e1e" stroke-width="0.9" />
<line x1="757.50" y1="418.80" x2="817.70" y2="418.80" stroke="#1e1e1e" stroke-width="0.9" />
<line x1="757.50" y1="422.40" x2="817.70" y2="422.40" stroke="#1e1e1e" stroke-width="0.9" />
<line x1="757.50" y1="504.10" x2="817.70" y2="504.10" stroke="#1e1e1e" stroke-width="0.9" />
<line x1="757.50" y1="509.40" x2="817.70" y2="509.40" stroke="#1e1e1e" stroke-width="0.9" />
<line x1="757.50" y1="518.60" x2="817.70" y2="518.60" stroke="#1e1e1e" stroke-width="0.9" />
<path d="M757.5,396 Q756.2,403.4 757.5,411" fill="none" stroke="#1e1e1e" stroke-width="0.8" />
<path d="M817.7,396 Q819,403.4 817.7,411" fill="none" stroke="#1e1e1e" stroke-width="0.8" />
<path d="M846.4,270.5 L851.4,270.5 Q852.5,270.5 852.5,271.6 L852.5,298.0 L856.5,301.9 L889.1,301.9 L889.1,505.5 L856.5,505.5 L852.5,509.6 L852.5,536.5 Q852.5,537.6 851.4,537.6 L846.4,537.6 Z" fill="#fff" stroke="#1e1e1e" stroke-width="1.1" />
<line x1="852.50" y1="298.00" x2="852.50" y2="509.60" stroke="#1e1e1e" stroke-width="1.1" />
<line x1="856.50" y1="301.90" x2="856.50" y2="505.50" stroke="#1e1e1e" stroke-width="1.1" />
<line x1="884.30" y1="301.90" x2="884.30" y2="505.50" stroke="#1e1e1e" stroke-width="1.1" />
<line x1="831.20" y1="403.40" x2="842.00" y2="403.40" stroke="#111" stroke-width="2.6" />
<line x1="836.60" y1="398.00" x2="836.60" y2="408.80" stroke="#111" stroke-width="2.6" />
<line x1="884.30" y1="301.20" x2="963.00" y2="301.20" stroke="#1e1e1e" stroke-width="1.1" />
<line x1="870.00" y1="506.30" x2="963.00" y2="506.30" stroke="#1e1e1e" stroke-width="1.1" />
<line x1="955.90" y1="301.20" x2="955.90" y2="506.30" stroke="#1e1e1e" stroke-width="1.1" />
<polygon points="955.90,301.20 957.60,310.20 954.20,310.20" fill="#1e1e1e"/>
<polygon points="955.90,506.30 954.20,497.30 957.60,497.30" fill="#1e1e1e"/>
<text transform="translate(951.20,404.00) rotate(-90) scale(0.7,1)" font-size="16.5" text-anchor="middle" fill="#1e1e1e" >ØD</text>
<line x1="846.40" y1="537.60" x2="846.40" y2="576.90" stroke="#1e1e1e" stroke-width="1.1" />
<line x1="889.10" y1="505.50" x2="889.10" y2="613.00" stroke="#1e1e1e" stroke-width="1.2" />
<line x1="846.40" y1="570.40" x2="889.10" y2="570.40" stroke="#1e1e1e" stroke-width="1.1" />
<polygon points="846.40,570.40 854.40,568.70 854.40,572.10" fill="#1e1e1e"/>
<polygon points="889.10,570.40 881.10,572.10 881.10,568.70" fill="#1e1e1e"/>
<text transform="translate(867.70,566.00) rotate(0) scale(0.7,1)" font-size="16.5" text-anchor="middle" fill="#1e1e1e" >S</text>
<line x1="748.50" y1="542.40" x2="748.50" y2="613.00" stroke="#1e1e1e" stroke-width="1.1" />
<line x1="748.50" y1="606.30" x2="889.10" y2="606.30" stroke="#1e1e1e" stroke-width="1.1" />
<polygon points="748.50,606.30 757.50,604.60 757.50,608.00" fill="#1e1e1e"/>
<polygon points="889.10,606.30 880.10,608.00 880.10,604.60" fill="#1e1e1e"/>
<text transform="translate(818.00,602.20) rotate(0) scale(0.7,1)" font-size="16.5" text-anchor="middle" fill="#1e1e1e" >F</text>
<line x1="676.40" y1="403.40" x2="707.20" y2="403.40" stroke="#2a2a2a" stroke-width="1.0" />
<line x1="711.20" y1="403.40" x2="716.00" y2="403.40" stroke="#2a2a2a" stroke-width="1.0" />
<line x1="719.90" y1="403.40" x2="753.00" y2="403.40" stroke="#2a2a2a" stroke-width="1.0" />
<line x1="757.80" y1="403.40" x2="766.20" y2="403.40" stroke="#2a2a2a" stroke-width="1.0" />
<line x1="770.20" y1="403.40" x2="805.80" y2="403.40" stroke="#2a2a2a" stroke-width="1.0" />
<line x1="809.60" y1="403.40" x2="817.00" y2="403.40" stroke="#2a2a2a" stroke-width="1.0" />
<line x1="822.40" y1="403.40" x2="858.00" y2="403.40" stroke="#2a2a2a" stroke-width="1.0" />
<line x1="863.00" y1="403.40" x2="868.30" y2="403.40" stroke="#2a2a2a" stroke-width="1.0" />
<line x1="874.20" y1="403.40" x2="899.40" y2="403.40" stroke="#2a2a2a" stroke-width="1.0" />
</g>
<g transform="translate(394.5,0)">
<circle cx="787.60" cy="403.40" r="97.30" fill="none" stroke="#1e1e1e" stroke-width="1.5" />
<rect x="697.00" y="136.20" width="107.60" height="107.60" rx="7" fill="#fff" stroke="#1e1e1e" stroke-width="1.1" />
<line x1="720.40" y1="136.20" x2="720.40" y2="243.80" stroke="#1e1e1e" stroke-width="1.1" />
<line x1="737.70" y1="136.20" x2="737.70" y2="243.80" stroke="#1e1e1e" stroke-width="1.1" />
<line x1="764.20" y1="136.20" x2="764.20" y2="243.80" stroke="#1e1e1e" stroke-width="1.1" />
<path d="M697,155.8 L710.5,155.8 Q716.2,155.8 716.2,150.1 L716.2,136.2" fill="none" stroke="#1e1e1e" stroke-width="1.1" />
<path d="M697,224.6 L710.5,224.6 Q716.2,224.6 716.2,230.3 L716.2,243.8" fill="none" stroke="#1e1e1e" stroke-width="1.1" />
<path d="M804.6,155.8 L795.8,155.8" fill="none" stroke="#1e1e1e" stroke-width="1.1" />
<path d="M713.65,150.35 L707.50,153.90 L701.35,150.35 L701.35,143.25 L707.50,139.70 L713.65,143.25 Z" fill="none" stroke="#1e1e1e" stroke-width="1.1" />
<circle cx="707.50" cy="146.80" r="4.20" fill="none" stroke="#1e1e1e" stroke-width="1.9" />
<path d="M801.95,150.35 L795.80,153.90 L789.65,150.35 L789.65,143.25 L795.80,139.70 L801.95,143.25 Z" fill="none" stroke="#1e1e1e" stroke-width="1.1" />
<circle cx="795.80" cy="146.80" r="4.20" fill="none" stroke="#1e1e1e" stroke-width="1.9" />
<path d="M713.65,237.25 L707.50,240.80 L701.35,237.25 L701.35,230.15 L707.50,226.60 L713.65,230.15 Z" fill="none" stroke="#1e1e1e" stroke-width="1.1" />
<circle cx="707.50" cy="233.70" r="4.20" fill="none" stroke="#1e1e1e" stroke-width="1.9" />
<rect x="748.00" y="144.20" width="5.60" height="91.60" rx="0" fill="#fff" stroke="#1e1e1e" stroke-width="1.1" />
<rect x="697.50" y="181.50" width="40.50" height="18.10" rx="3" fill="#fff" stroke="#1e1e1e" stroke-width="1.1" />
<line x1="700.80" y1="182.00" x2="700.80" y2="199.10" stroke="#1e1e1e" stroke-width="0.8" />
<rect x="702.30" y="187.50" width="35.70" height="5.30" rx="0" fill="none" stroke="#1e1e1e" stroke-width="1.1" />
<rect x="779.20" y="131.20" width="15.10" height="33.80" rx="0" fill="#fff" stroke="#1e1e1e" stroke-width="1.1" />
<line x1="795.80" y1="131.20" x2="795.80" y2="165.00" stroke="#666" stroke-width="0.7" />
<rect x="781.20" y="125.20" width="12.40" height="6.00" rx="0" fill="#fff" stroke="#1e1e1e" stroke-width="1.1" />
<rect x="772.50" y="164.90" width="29.10" height="9.40" rx="0" fill="#fff" stroke="#1e1e1e" stroke-width="1.1" />
<rect x="744.50" y="174.30" width="86.10" height="37.00" rx="0" fill="#fff" stroke="#1e1e1e" stroke-width="1.1" />
<line x1="744.50" y1="206.00" x2="830.60" y2="206.00" stroke="#1e1e1e" stroke-width="1.1" />
<line x1="765.50" y1="174.30" x2="765.50" y2="211.30" stroke="#1e1e1e" stroke-width="1.1" />
<line x1="766.90" y1="174.30" x2="766.90" y2="211.30" stroke="#1e1e1e" stroke-width="0.8" />
<line x1="780.80" y1="174.30" x2="780.80" y2="211.30" stroke="#1e1e1e" stroke-width="1.1" />
<line x1="822.30" y1="174.30" x2="822.30" y2="211.30" stroke="#1e1e1e" stroke-width="1.1" />
<line x1="829.40" y1="174.30" x2="829.40" y2="211.30" stroke="#666" stroke-width="0.7" />
<path d="M764.98,198.40 L750.60,206.70 L736.22,198.40 L736.22,181.80 L750.60,173.50 L764.98,181.80 Z" fill="#fff" stroke="#1e1e1e" stroke-width="1.1" />
<circle cx="750.60" cy="190.10" r="13.70" fill="#fff" stroke="#1e1e1e" stroke-width="1.3" />
<circle cx="750.60" cy="190.10" r="9.40" fill="none" stroke="#1e1e1e" stroke-width="1.2" />
<path d="M755.71,193.05 L750.60,196.00 L745.49,193.05 L745.49,187.15 L750.60,184.20 L755.71,187.15 Z" fill="none" stroke="#1e1e1e" stroke-width="1.1" />
<rect x="753.90" y="211.30" width="66.70" height="39.30" rx="0" fill="#fff" stroke="#1e1e1e" stroke-width="1.1" />
<line x1="755.30" y1="211.30" x2="755.30" y2="250.60" stroke="#1e1e1e" stroke-width="0.7" />
<path d="M761.40,218.60 L761.40,241.50 L812.80,241.50 L812.80,211.30" fill="none" stroke="#1e1e1e" stroke-width="1.1" />
<line x1="769.00" y1="218.60" x2="769.00" y2="241.50" stroke="#1e1e1e" stroke-width="1.1" />
<line x1="780.80" y1="231.20" x2="780.80" y2="241.50" stroke="#1e1e1e" stroke-width="1.1" />
<line x1="785.30" y1="231.20" x2="785.30" y2="241.50" stroke="#1e1e1e" stroke-width="1.1" />
<line x1="804.90" y1="211.30" x2="804.90" y2="241.50" stroke="#666" stroke-width="0.8" />
<path d="M772.50,211.30 L772.50,231.20 L801.90,231.20 L801.90,211.30" fill="none" stroke="#1e1e1e" stroke-width="1.1" />
<path d="M788.4,231.2 A5.8,5.8 0 0 0 800.0,231.2" fill="none" stroke="#1e1e1e" stroke-width="1.5" />
<path d="M790.9,231.2 A3.3,3.3 0 0 0 797.5,231.2" fill="none" stroke="#1e1e1e" stroke-width="1.0" />
<rect x="762.60" y="211.30" width="10.90" height="7.30" rx="0" fill="#fff" stroke="#1e1e1e" stroke-width="1.1" />
<line x1="762.60" y1="212.60" x2="773.50" y2="212.60" stroke="#1e1e1e" stroke-width="1.6" />
<rect x="820.00" y="211.30" width="10.60" height="7.30" rx="0" fill="#fff" stroke="#1e1e1e" stroke-width="1.1" />
<line x1="820.00" y1="212.60" x2="830.60" y2="212.60" stroke="#1e1e1e" stroke-width="1.6" />
<rect x="753.10" y="250.60" width="68.10" height="11.70" rx="0" fill="#fff" stroke="#1e1e1e" stroke-width="1.1" />
<rect x="748.50" y="265.40" width="78.80" height="277.00" rx="0" fill="#fff" stroke="#1e1e1e" stroke-width="1.1" />
<rect x="766.70" y="262.30" width="41.20" height="33.20" rx="0" fill="#fff" stroke="#1e1e1e" stroke-width="1.1" />
<line x1="766.70" y1="288.60" x2="807.90" y2="288.60" stroke="#666" stroke-width="0.8" />
<line x1="765.60" y1="278.00" x2="765.60" y2="295.40" stroke="#1e1e1e" stroke-width="1.7" />
<line x1="809.00" y1="278.00" x2="809.00" y2="295.40" stroke="#444" stroke-width="1.7" />
<line x1="748.50" y1="269.40" x2="766.70" y2="269.40" stroke="#1e1e1e" stroke-width="1.1" />
<line x1="753.60" y1="271.70" x2="766.70" y2="271.70" stroke="#1e1e1e" stroke-width="1.1" />
<line x1="807.90" y1="269.40" x2="827.30" y2="269.40" stroke="#1e1e1e" stroke-width="1.1" />
<line x1="807.90" y1="271.70" x2="821.50" y2="271.70" stroke="#1e1e1e" stroke-width="1.1" />
<line x1="753.60" y1="269.40" x2="753.60" y2="535.90" stroke="#1e1e1e" stroke-width="0.8" />
<line x1="757.50" y1="276.00" x2="757.50" y2="530.00" stroke="#1e1e1e" stroke-width="1.1" />
<line x1="821.50" y1="269.40" x2="821.50" y2="535.90" stroke="#1e1e1e" stroke-width="0.8" />
<line x1="817.70" y1="276.00" x2="817.70" y2="530.00" stroke="#1e1e1e" stroke-width="1.1" />
<line x1="826.40" y1="265.40" x2="826.40" y2="542.40" stroke="#666" stroke-width="0.7" />
<path d="M753.6,271.7 Q757.5,272.5 757.5,279" fill="none" stroke="#1e1e1e" stroke-width="1.1" />
<path d="M821.5,271.7 Q817.7,272.5 817.7,279" fill="none" stroke="#1e1e1e" stroke-width="1.1" />
<path d="M757.5,528 Q758,535.5 762,535.9" fill="none" stroke="#1e1e1e" stroke-width="0.8" />
<path d="M817.7,528 Q817.2,535.5 813.2,535.9" fill="none" stroke="#1e1e1e" stroke-width="0.8" />
<path d="M757.50,302.20 L764.90,302.20 L764.90,271.70" fill="none" stroke="#1e1e1e" stroke-width="1.1" />
<path d="M817.70,302.20 L811.00,302.20 L811.00,271.70" fill="none" stroke="#1e1e1e" stroke-width="1.1" />
<line x1="757.50" y1="288.60" x2="764.90" y2="288.60" stroke="#666" stroke-width="0.7" />
<line x1="811.00" y1="288.60" x2="817.70" y2="288.60" stroke="#666" stroke-width="0.7" />
<line x1="748.50" y1="535.90" x2="827.30" y2="535.90" stroke="#1e1e1e" stroke-width="1.1" />
<line x1="748.50" y1="539.00" x2="827.30" y2="539.00" stroke="#1e1e1e" stroke-width="0.8" />
<line x1="787.60" y1="295.50" x2="787.60" y2="542.40" stroke="#1e1e1e" stroke-width="1.1" />
<path d="M748.5,335.6 L755.3,335.6 Q757.5,335.6 757.5,337.8 L757.5,343.2 Q757.5,345.4 755.3,345.4 L748.5,345.4" fill="none" stroke="#1e1e1e" stroke-width="1.0" />
<path d="M827.3,335.6 L819.9,335.6 Q817.7,335.6 817.7,337.8 L817.7,343.2 Q817.7,345.4 819.9,345.4 L827.3,345.4" fill="none" stroke="#1e1e1e" stroke-width="1.0" />
<path d="M748.5,363.2 L755.3,363.2 Q757.5,363.2 757.5,365.4 L757.5,367.40000000000003 Q757.5,369.6 755.3,369.6 L748.5,369.6" fill="none" stroke="#1e1e1e" stroke-width="1.0" />
<path d="M827.3,363.2 L819.9,363.2 Q817.7,363.2 817.7,365.4 L817.7,367.40000000000003 Q817.7,369.6 819.9,369.6 L827.3,369.6" fill="none" stroke="#1e1e1e" stroke-width="1.0" />
<path d="M748.5,437.9 L755.3,437.9 Q757.5,437.9 757.5,440.09999999999997 L757.5,442.8 Q757.5,445.0 755.3,445.0 L748.5,445.0" fill="none" stroke="#1e1e1e" stroke-width="1.0" />
<path d="M827.3,437.9 L819.9,437.9 Q817.7,437.9 817.7,440.09999999999997 L817.7,442.8 Q817.7,445.0 819.9,445.0 L827.3,445.0" fill="none" stroke="#1e1e1e" stroke-width="1.0" />
<path d="M748.5,462.1 L755.3,462.1 Q757.5,462.1 757.5,464.3 L757.5,468.90000000000003 Q757.5,471.1 755.3,471.1 L748.5,471.1" fill="none" stroke="#1e1e1e" stroke-width="1.0" />
<path d="M827.3,462.1 L819.9,462.1 Q817.7,462.1 817.7,464.3 L817.7,468.90000000000003 Q817.7,471.1 819.9,471.1 L827.3,471.1" fill="none" stroke="#1e1e1e" stroke-width="1.0" />
<line x1="757.50" y1="384.80" x2="817.70" y2="384.80" stroke="#1e1e1e" stroke-width="0.9" />
<line x1="757.50" y1="388.70" x2="817.70" y2="388.70" stroke="#1e1e1e" stroke-width="0.9" />
<line x1="757.50" y1="392.30" x2="817.70" y2="392.30" stroke="#1e1e1e" stroke-width="0.9" />
<line x1="757.50" y1="415.20" x2="817.70" y2="415.20" stroke="#1e1e1e" stroke-width="0.9" />
<line x1="757.50" y1="418.80" x2="817.70" y2="418.80" stroke="#1e1e1e" stroke-width="0.9" />
<line x1="757.50" y1="422.40" x2="817.70" y2="422.40" stroke="#1e1e1e" stroke-width="0.9" />
<line x1="757.50" y1="504.10" x2="817.70" y2="504.10" stroke="#1e1e1e" stroke-width="0.9" />
<line x1="757.50" y1="509.40" x2="817.70" y2="509.40" stroke="#1e1e1e" stroke-width="0.9" />
<line x1="757.50" y1="518.60" x2="817.70" y2="518.60" stroke="#1e1e1e" stroke-width="0.9" />
<path d="M757.5,396 Q756.2,403.4 757.5,411" fill="none" stroke="#1e1e1e" stroke-width="0.8" />
<path d="M817.7,396 Q819,403.4 817.7,411" fill="none" stroke="#1e1e1e" stroke-width="0.8" />
<line x1="748.50" y1="542.40" x2="748.50" y2="613.00" stroke="#1e1e1e" stroke-width="1.1" />
<line x1="827.30" y1="542.40" x2="827.30" y2="613.00" stroke="#1e1e1e" stroke-width="1.1" />
<line x1="748.50" y1="606.30" x2="827.30" y2="606.30" stroke="#1e1e1e" stroke-width="1.1" />
<polygon points="748.50,606.30 757.50,604.60 757.50,608.00" fill="#1e1e1e"/>
<polygon points="827.30,606.30 818.30,608.00 818.30,604.60" fill="#1e1e1e"/>
<text transform="translate(787.60,602.20) rotate(0) scale(0.7,1)" font-size="16.5" text-anchor="middle" fill="#1e1e1e" >F</text>
<line x1="676.40" y1="403.40" x2="707.20" y2="403.40" stroke="#2a2a2a" stroke-width="1.0" />
<line x1="711.20" y1="403.40" x2="716.00" y2="403.40" stroke="#2a2a2a" stroke-width="1.0" />
<line x1="719.90" y1="403.40" x2="753.00" y2="403.40" stroke="#2a2a2a" stroke-width="1.0" />
<line x1="757.80" y1="403.40" x2="766.20" y2="403.40" stroke="#2a2a2a" stroke-width="1.0" />
<line x1="770.20" y1="403.40" x2="805.80" y2="403.40" stroke="#2a2a2a" stroke-width="1.0" />
<line x1="809.60" y1="403.40" x2="817.00" y2="403.40" stroke="#2a2a2a" stroke-width="1.0" />
<line x1="822.40" y1="403.40" x2="858.00" y2="403.40" stroke="#2a2a2a" stroke-width="1.0" />
<line x1="863.00" y1="403.40" x2="868.30" y2="403.40" stroke="#2a2a2a" stroke-width="1.0" />
<line x1="874.20" y1="403.40" x2="899.40" y2="403.40" stroke="#2a2a2a" stroke-width="1.0" />
</g>
</svg></body></html>
